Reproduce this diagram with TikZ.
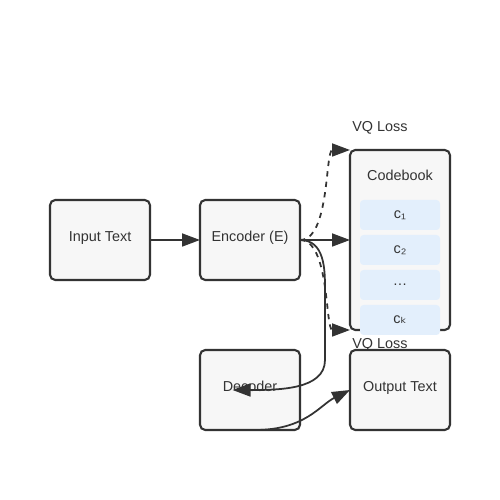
\documentclass[tikz,border=0pt]{standalone}
\usepackage{fontspec}
\setmainfont{Liberation Sans}
\newfontfamily\dvfont{DejaVu Sans}
\usetikzlibrary{positioning,arrows.meta}
\definecolor{boxfill}{HTML}{F7F7F7}
\definecolor{ink}{HTML}{333333}
\definecolor{codefill}{HTML}{E3EFFC}
\tikzset{
  txt/.style={text=ink,font=\fontsize{8.2}{9.8}\selectfont},
  blk/.style={txt,draw=ink,fill=boxfill,line width=1.2pt,outer sep=0pt,rounded corners=3pt,minimum width=2cm,minimum height=1.6cm,text depth=0.15cm},
  code/.style={txt,fill=codefill,outer sep=0pt,rounded corners=2pt,minimum width=1.6cm,minimum height=0.6cm},
  link/.style={draw=ink,line width=1pt,-{Triangle[length=0.36cm,width=0.26cm]}},
}
\begin{document}
\begin{tikzpicture}
\useasboundingbox (0,0) rectangle (10,10);
\node[blk] (in) at (2,5.2) {Input Text};
\node[blk,right=1cm of in] (enc) {Encoder (E)};
\node[blk,right=1cm of enc,minimum height=3.6cm] (cb) {};
\node[txt] (cbt) at ([yshift=-0.5cm]cb.north) {Codebook};
\foreach \t [count=\i] in {c₁,c₂,\dots,c{\dvfont ₖ}}
{
    \node[code] (c\i) at ([yshift=-0.6cm-0.7cm*\i]cb.north) {\t};
}
\node[blk,below=1.4cm of enc] (dec) {Decoder};
\node[blk,right=1cm of dec] (out) {Output Text};
\node[txt] (vq1) at ([xshift=0.6cm,yshift=0.45cm]cb.north west) {VQ Loss};
\node[txt] (vq2) at ([xshift=0.6cm,yshift=-0.3cm]cb.south west) {VQ Loss};
\coordinate (dc) at ([xshift=-0.35cm]dec.center);
% links
\draw[link] (in) -- (enc);
\draw[link] (enc) -- (cb);
\draw[link,dashed] (enc.east) .. controls +(0.6,0) and +(-0.5,0) .. (cb.north west);
\draw[link,dashed] (enc.east) .. controls +(0.6,0) and +(-0.5,0) .. (cb.south west);
\draw[link] (enc.east) .. controls +(0.5,0) and +(0,0.4) .. ([xshift=0.5cm,yshift=-1cm]enc.east) -- ([xshift=0.5cm,yshift=-2.4cm]enc.east) .. controls +(0,-0.6) and +(0.9,0) .. (dc);
\draw[link] ([xshift=0.1cm]dec.south) .. controls +(1,0) and +(-0.6,-0.3) .. (out.west);
\end{tikzpicture}
\end{document}
